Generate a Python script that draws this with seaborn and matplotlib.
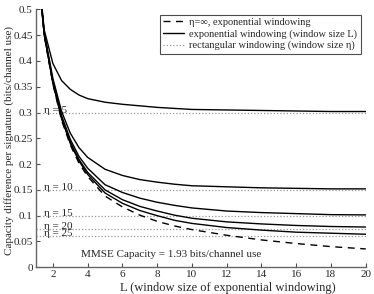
import numpy as np
import pandas as pd
import matplotlib
matplotlib.use("Agg")
import matplotlib.pyplot as plt
import seaborn as sns
from matplotlib.lines import Line2D

# --- data ---
L = [1.2, 1.5, 2, 2.5, 3, 3.5, 4, 5, 6, 7, 8, 9, 10, 12, 14, 16, 18, 20]

exp_inf = [0.56, 0.45, 0.355, 0.285, 0.237, 0.202, 0.176, 0.138, 0.117, 0.101,
           0.089, 0.080, 0.073, 0.062, 0.053, 0.046, 0.040, 0.0355]
exp_eta5 = [0.56, 0.46, 0.395, 0.362, 0.345, 0.334, 0.327, 0.320, 0.316, 0.313,
            0.310, 0.308, 0.306, 0.305, 0.304, 0.303, 0.302, 0.302]
exp_eta10 = [0.56, 0.456, 0.366, 0.302, 0.260, 0.232, 0.213, 0.190, 0.178, 0.170,
             0.165, 0.161, 0.158, 0.156, 0.154, 0.153, 0.152, 0.152]
exp_eta15 = [0.56, 0.453, 0.360, 0.294, 0.248, 0.215, 0.192, 0.160, 0.145, 0.134,
             0.126, 0.120, 0.115, 0.109, 0.106, 0.104, 0.102, 0.1015]
exp_eta20 = [0.56, 0.452, 0.358, 0.290, 0.243, 0.209, 0.184, 0.150, 0.131, 0.118,
             0.109, 0.101, 0.095, 0.088, 0.084, 0.081, 0.079, 0.078]
exp_eta25 = [0.56, 0.451, 0.357, 0.288, 0.240, 0.206, 0.180, 0.144, 0.124, 0.110,
             0.100, 0.091, 0.085, 0.077, 0.072, 0.068, 0.066, 0.064]

eta_labels = ["5", "10", "15", "20", "25"]
rect_levels = [0.3, 0.15, 0.1, 0.075, 0.06]

x_ticks = [2, 4, 6, 8, 10, 12, 14, 16, 18, 20]
y_ticks = [0, 0.05, 0.1, 0.15, 0.2, 0.25, 0.3, 0.35, 0.4, 0.45, 0.5]
y_tick_labels = ["0", "0.05", "0.1", "0.15", "0.2", "0.25", "0.3", "0.35", "0.4", "0.45", "0.5"]

# --- style ---
sns.set_style("ticks")
plt.rcParams["font.family"] = ["Liberation Serif", "DejaVu Serif"]
plt.rcParams["xtick.direction"] = "in"
plt.rcParams["ytick.direction"] = "in"

fig = plt.figure(figsize=(3.74, 2.94), dpi=100)
ax = fig.add_axes([0.095, 0.091, 0.883, 0.877])

# rectangular windowing levels (dotted)
for lvl, lab in zip(rect_levels, eta_labels):
    ax.axhline(lvl, color="0.6", ls=(0, (1, 1.6)), lw=0.9, zorder=1)
    ax.text(1.5, lvl, f"η = {lab}", fontsize=8, va="baseline", ha="left",
            color="0.15", zorder=2)

# exponential windowing, finite window size (solid)
for vals in [exp_eta5, exp_eta10, exp_eta15, exp_eta20, exp_eta25]:
    sns.lineplot(x=L, y=vals, color="k", lw=1.0, ax=ax, zorder=3)

# exponential windowing, eta = infinity (dashed)
sns.lineplot(x=L, y=exp_inf, color="k", lw=1.0, ls=(0, (5, 4)), ax=ax, zorder=3)

ax.text(8.8, 0.024, "MMSE Capacity = 1.93 bits/channel use", fontsize=8,
        ha="center", va="center")

ax.set_xlim(1, 20)
ax.set_ylim(0, 0.5)
ax.set_xticks(x_ticks)
ax.set_yticks(y_ticks)
ax.set_yticklabels(y_tick_labels)
ax.tick_params(labelsize=8, length=3, color="0.3", pad=2)
ax.set_xlabel("L (window size of exponential windowing)", fontsize=9)
ax.set_ylabel("Capacity difference per signature (bits/channel use)", fontsize=8)
ax.xaxis.set_label_coords(0.582, -0.056)
ax.yaxis.set_label_coords(-0.066, 0.49)
sns.despine(ax=ax)
for s in ["left", "bottom"]:
    ax.spines[s].set_color("0.4")
    ax.spines[s].set_linewidth(1.0)

handles = [
    Line2D([], [], color="k", lw=1.0, ls=(0, (5, 4))),
    Line2D([], [], color="k", lw=1.0),
    Line2D([], [], color="0.6", lw=0.9, ls=(0, (1, 1.6))),
]
labels = ["η=∞, exponential windowing",
          "exponential windowing (window size L)",
          "rectangular windowing (window size η)"]
leg = ax.legend(handles, labels, loc="upper right", fontsize=7.5, frameon=True,
                fancybox=False, edgecolor="0.3", framealpha=1, handlelength=2.0,
                borderaxespad=0.5, labelspacing=0.2, borderpad=0.3, handletextpad=0.5)
leg.get_frame().set_linewidth(0.8)

fig.savefig("out.png", dpi=100)
